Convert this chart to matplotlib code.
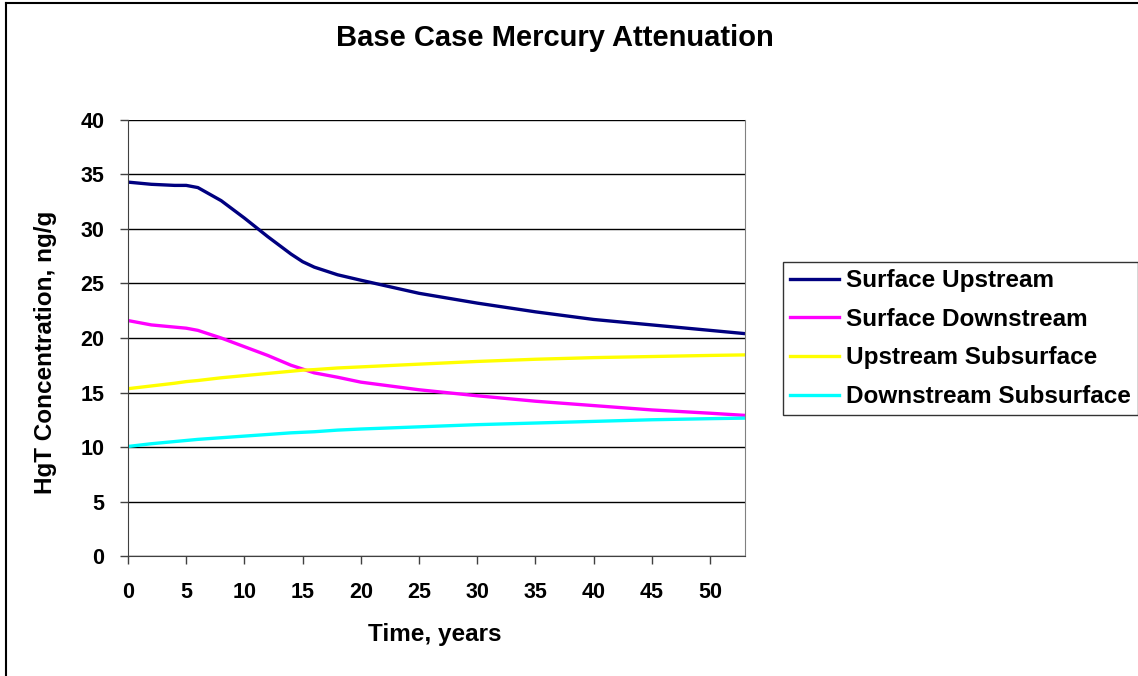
import matplotlib.pyplot as plt
from matplotlib.lines import Line2D

plt.rcParams['font.family'] = ['Liberation Sans', 'DejaVu Sans']
plt.rcParams['font.weight'] = 'bold'

# Data
time_years = [0, 2, 4, 5, 6, 8, 10, 12, 14, 15, 16, 18, 20, 25, 30, 35, 40, 45, 50, 53]
surface_upstream = [34.3, 34.1, 34.0, 34.0, 33.8, 32.6, 31.0, 29.3, 27.7, 27.0, 26.5, 25.8, 25.3,
                    24.1, 23.2, 22.4, 21.7, 21.2, 20.7, 20.4]
surface_downstream = [21.6, 21.2, 21.0, 20.9, 20.7, 20.0, 19.2, 18.4, 17.5, 17.15, 16.8, 16.4, 15.95,
                      15.25, 14.7, 14.2, 13.8, 13.4, 13.1, 12.9]
upstream_subsurface = [15.35, 15.6, 15.85, 16.0, 16.1, 16.35, 16.55, 16.75, 16.95, 17.05, 17.1, 17.25,
                       17.35, 17.6, 17.85, 18.05, 18.2, 18.3, 18.4, 18.45]
downstream_subsurface = [10.05, 10.3, 10.5, 10.6, 10.7, 10.85, 11.0, 11.15, 11.3, 11.35, 11.4, 11.55,
                         11.65, 11.85, 12.05, 12.2, 12.35, 12.5, 12.6, 12.65]

fig = plt.figure(figsize=(11.38, 6.76), dpi=100)
ax = fig.add_axes([0.1125, 0.1775, 0.5422, 0.645])

ax.plot(time_years, surface_upstream, color='#000080', lw=2.4, label='Surface Upstream')
ax.plot(time_years, surface_downstream, color='#FF00FF', lw=2.4, label='Surface Downstream')
ax.plot(time_years, upstream_subsurface, color='#FFFF00', lw=2.4, label='Upstream Subsurface')
ax.plot(time_years, downstream_subsurface, color='#00FFFF', lw=2.4, label='Downstream Subsurface')

ax.set_xlim(0, 53)
ax.set_ylim(0, 40)
ax.set_xticks(range(0, 51, 5))
ax.set_yticks(range(0, 41, 5))
ax.yaxis.grid(True, color='black', lw=1)
ax.set_axisbelow(True)
ax.tick_params(labelsize=15.5, length=6, width=1, color='#404040')
ax.tick_params(axis='x', pad=13)
ax.tick_params(axis='y', pad=11)
ax.spines['top'].set_visible(False)
ax.spines['right'].set_color('#808080')
for s in ['left', 'bottom']:
    ax.spines[s].set_color('#404040')

fig.text(0.382, 1 - 634 / 676, 'Time, years', ha='center', va='center',
         fontsize=17.5, fontweight='bold')
fig.text(46 / 1138, 1 - 352 / 676, 'HgT Concentration, ng/g', ha='center', va='center',
         rotation=90, fontsize=17.5, fontweight='bold')
fig.text(0.488, 0.944, 'Base Case Mercury Attenuation', ha='center', va='center',
         fontsize=21, fontweight='bold')

leg = fig.legend(loc='center left', bbox_to_anchor=(0.688, 0.499), frameon=True, fancybox=False,
                 edgecolor='black', fontsize=17.5, handlelength=2, handletextpad=0.3,
                 borderpad=0.3, labelspacing=0.64, borderaxespad=0)
leg.get_frame().set_linewidth(1)
for t in leg.get_texts():
    t.set_fontweight('bold')

# chart area border (top and left edges visible)
fig.add_artist(Line2D([0.005, 1], [0.996, 0.996], color='black', lw=1.5, transform=fig.transFigure))
fig.add_artist(Line2D([0.005, 0.005], [0, 0.996], color='black', lw=1.5, transform=fig.transFigure))

fig.savefig('out.png', dpi=100)
